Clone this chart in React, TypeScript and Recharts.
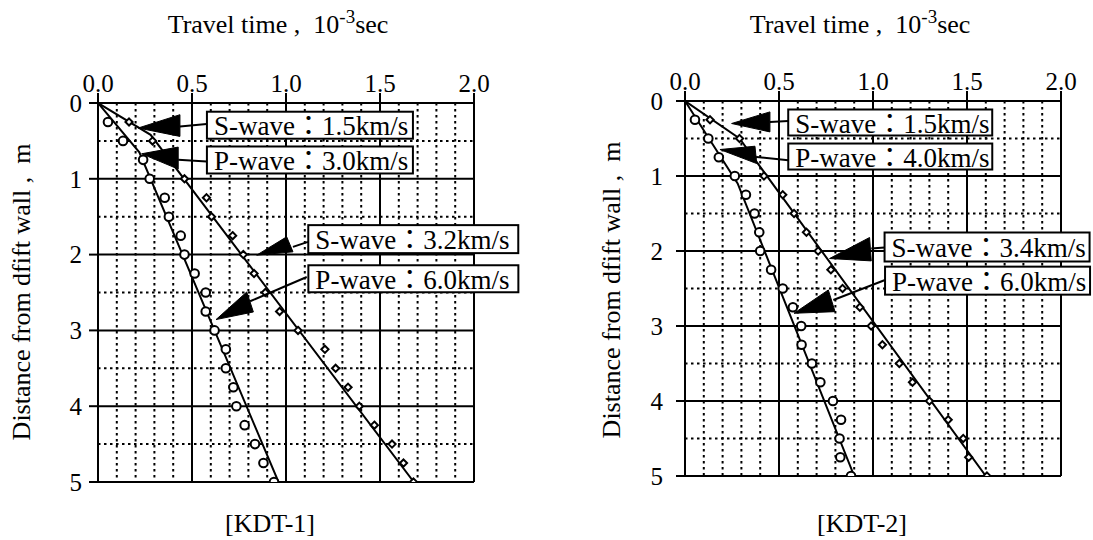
import React from 'react';
import { ComposedChart, Scatter, XAxis, YAxis, CartesianGrid, ReferenceLine, ReferenceDot } from 'recharts';

// ---- data ----
const depths = [0.25, 0.5, 0.75, 1.0, 1.25, 1.5, 1.75, 2.0, 2.25, 2.5, 2.75, 3.0, 3.25, 3.5, 3.75, 4.0, 4.25, 4.5, 4.75, 5.0];

const kdt1P = [0.053, 0.133, 0.24, 0.275, 0.355, 0.377, 0.44, 0.46, 0.514, 0.573, 0.573, 0.62, 0.68, 0.68, 0.72, 0.736, 0.78, 0.835, 0.88, 0.936];
const kdt1S = [0.165, 0.29, 0.38, 0.46, 0.577, 0.604, 0.716, 0.773, 0.83, 0.89, 0.966, 1.064, 1.207, 1.264, 1.33, 1.39, 1.47, 1.564, 1.625, 1.678];
const kdt2P = [0.053, 0.124, 0.18, 0.265, 0.324, 0.37, 0.395, 0.4, 0.458, 0.52, 0.574, 0.618, 0.62, 0.675, 0.72, 0.787, 0.83, 0.822, 0.826, 0.883];
const kdt2S = [0.133, 0.29, 0.36, 0.42, 0.52, 0.58, 0.646, 0.708, 0.776, 0.838, 0.93, 0.99, 1.05, 1.14, 1.21, 1.3, 1.4, 1.48, 1.509, 1.606];

// fitted velocity lines: [time, depth] vertices
const kdt1PLineT = [0, 0.22, 0.96];
const kdt1PLineD = [0, 0.65, 5];
const kdt1SLineT = [0, 0.28, 1.68];
const kdt1SLineD = [0, 0.42, 5];
const kdt2PLineT = [0, 0.28, 0.9];
const kdt2PLineD = [0, 1.1, 5];
const kdt2SLineT = [0, 0.29, 1.6];
const kdt2SLineD = [0, 0.5, 5];

const xTicks = [0, 0.5, 1, 1.5, 2];
const yTicks = [0, 1, 2, 3, 4, 5];
const xMinor = [0.1, 0.2, 0.3, 0.4, 0.6, 0.7, 0.8, 0.9, 1.1, 1.2, 1.3, 1.4, 1.6, 1.7, 1.8, 1.9];
const yMinor = [0.5, 1.5, 2.5, 3.5, 4.5];

const kdt1Notes = ['S-wave：1.5km/s', 'P-wave：3.0km/s', 'S-wave：3.2km/s', 'P-wave：6.0km/s'];
const kdt2Notes = ['S-wave：1.5km/s', 'P-wave：4.0km/s', 'S-wave：3.4km/s', 'P-wave：6.0km/s'];
// arrow tip positions in data units [time, depth]
const kdt1NoteTips = [[0.214, 0.33], [0.232, 0.67], [0.844, 2.007], [0.628, 2.857]];
const kdt2NoteTips = [[0.248, 0.3], [0.186, 0.647], [0.769, 2.1], [0.58, 2.83]];

// ---- layout (pixel offsets relative to arrow tip) ----
const kdt1Layout = [
  { tri: [[41.7, -13.3], [41.7, 8.4]], line: [[41.7, -1.6], [68.4, -4]], box: [68.7, -16.3, 206, 27] },
  { tri: [[36.6, -6.7], [36.6, 15.3]], line: [[36.6, 6], [65, 7.7]], box: [65.3, -7.3, 206, 27] },
  { tri: [[30, -18.3], [36.3, -3.3]], line: [[36.3, -8.3], [51.3, -13.3]], box: [51.6, -30, 210, 28] },
  { tri: [[30.7, -27.6], [37.3, -7.6]], line: [[34, -18.3], [90.7, -42.6]], box: [92.3, -54.3, 210, 27] },
];
const kdt2Layout = [
  { tri: [[38.3, -11.6], [38.3, 8.4]], line: [[38.3, -1.6], [56.6, -2.6]], box: [56.6, -14, 204, 26] },
  { tri: [[35, -3.3], [36.7, 14]], line: [[36.7, 7.4], [68.3, 10.7]], box: [68.3, -6, 204, 26] },
  { tri: [[40, -21], [41.7, 2.4]], line: [[41.7, -10], [55, -11]], box: [55, -26, 205, 29] },
  { tri: [[34.3, -23.3], [41, -1.6]], line: [[39.3, -13.3], [91, -33.3]], box: [91, -46.6, 205, 28] },
];

const FONT = "'Liberation Serif', 'Times New Roman', 'Noto Sans CJK JP', serif";

const Circle = (props: any) => {
  const { cx, cy } = props;
  if (cx == null || cy == null) return <g />;
  return <circle cx={cx} cy={cy} r={4.3} fill="#fff" stroke="#000" strokeWidth={2} />;
};
const Diamond = (props: any) => {
  const { cx, cy } = props;
  if (cx == null || cy == null) return <g />;
  const s = 3.6;
  return <polygon points={`${cx},${cy - s} ${cx + s},${cy} ${cx},${cy + s} ${cx - s},${cy}`} fill="#fff" stroke="#000" strokeWidth={2} />;
};
const NoMark = () => <g />;

function makeNote(text: string, lay: any) {
  return (props: any) => {
    const { cx, cy } = props;
    if (cx == null || cy == null) return <g />;
    const [bx, by, bw, bh] = lay.box;
    return (
      <g>
        <polygon
          points={`${cx},${cy} ${cx + lay.tri[0][0]},${cy + lay.tri[0][1]} ${cx + lay.tri[1][0]},${cy + lay.tri[1][1]}`}
          fill="#000" stroke="#000" strokeWidth={1} />
        <line x1={cx + lay.line[0][0]} y1={cy + lay.line[0][1]} x2={cx + lay.line[1][0]} y2={cy + lay.line[1][1]} stroke="#000" strokeWidth={2} />
        <rect x={cx + bx} y={cy + by} width={bw} height={bh} fill="#fff" stroke="#000" strokeWidth={2} />
        <text x={cx + bx + 7} y={cy + by + bh / 2 + 1} dominantBaseline="central" fontSize={27} fontFamily={FONT} fill="#000">{text}</text>
      </g>
    );
  };
}

function Panel(props: any) {
  const { left, width, margin, pT, sT, pLT, pLD, sLT, sLD, notes, tips, layout, yTickMargin } = props;
  const pData = depths.map((d, i) => ({ t: pT[i], d }));
  const sData = depths.map((d, i) => ({ t: sT[i], d }));
  const pLine = pLT.map((t: number, i: number) => ({ t, d: pLD[i] }));
  const sLine = sLT.map((t: number, i: number) => ({ t, d: sLD[i] }));
  const tickStyle = { fontSize: 25, fontFamily: FONT, fill: '#000' };
  return (
    <div style={{ position: 'absolute', left, top: 0 }}>
      <ComposedChart width={width} height={540} margin={margin}>
        <XAxis type="number" dataKey="t" orientation="top" domain={[0, 2]} ticks={xTicks}
          tickFormatter={(v: number) => v.toFixed(1)} tick={tickStyle} tickSize={10} tickMargin={1}
          axisLine={{ stroke: '#000', strokeWidth: 2 }} tickLine={{ stroke: '#000', strokeWidth: 2 }} height={40} allowDataOverflow />
        <YAxis type="number" dataKey="d" domain={[0, 5]} reversed ticks={yTicks} tick={tickStyle}
          tickSize={9} tickMargin={yTickMargin} width={60}
          axisLine={{ stroke: '#000', strokeWidth: 2 }} tickLine={{ stroke: '#000', strokeWidth: 2 }} allowDataOverflow />
        {xMinor.map((v) => (
          <ReferenceLine key={'xm' + v} x={v} stroke="#000" strokeWidth={2} strokeDasharray="2.5 3.5" />
        ))}
        {yMinor.map((v) => (
          <ReferenceLine key={'ym' + v} y={v} stroke="#000" strokeWidth={2} strokeDasharray="2.5 3.5" />
        ))}
        <CartesianGrid stroke="#000" strokeWidth={2} />
        <Scatter data={pLine} line={{ stroke: '#000', strokeWidth: 2 }} lineType="joint" shape={NoMark} isAnimationActive={false} />
        <Scatter data={sLine} line={{ stroke: '#000', strokeWidth: 2 }} lineType="joint" shape={NoMark} isAnimationActive={false} />
        <Scatter data={pData} shape={Circle} isAnimationActive={false} />
        <Scatter data={sData} shape={Diamond} isAnimationActive={false} />
        {notes.map((n: string, i: number) => (
          <ReferenceDot key={'n' + i} x={tips[i][0]} y={tips[i][1]} ifOverflow="visible" shape={makeNote(n, layout[i])} />
        ))}
      </ComposedChart>
    </div>
  );
}

const textBase: React.CSSProperties = {
  position: 'absolute', fontFamily: FONT, fontSize: 26, color: '#000', whiteSpace: 'nowrap', lineHeight: '26px',
};

function Title({ cx }: { cx: number }) {
  return (
    <div style={{ ...textBase, left: cx, top: 12, transform: 'translateX(-50%)' }}>
      Travel time&nbsp;,&nbsp;&nbsp;10<span style={{ fontSize: 19, position: 'relative', top: -10 }}>-3</span>sec
    </div>
  );
}
function YLabel({ cx, cy }: { cx: number; cy: number }) {
  return (
    <div style={{ ...textBase, left: cx, top: cy, transform: 'translate(-50%, -50%) rotate(-90deg)' }}>
      Distance from dfift wall&nbsp;,&nbsp;&nbsp;m
    </div>
  );
}
function Caption({ cx, cy, text }: { cx: number; cy: number; text: string }) {
  return <div style={{ ...textBase, left: cx, top: cy, transform: 'translate(-50%, -50%)' }}>{text}</div>;
}

export default function App() {
  return (
    <div style={{ position: 'absolute', left: 0, top: 0, width: 1093, height: 540, background: '#fff', overflow: 'hidden' }}>
      <Panel left={0} width={546} margin={{ top: 63, left: 38, right: 72, bottom: 58 }}
        pT={kdt1P} sT={kdt1S} pLT={kdt1PLineT} pLD={kdt1PLineD} sLT={kdt1SLineT} sLD={kdt1SLineD}
        notes={kdt1Notes} tips={kdt1NoteTips} layout={kdt1Layout} yTickMargin={7} />
      <Panel left={546} width={547} margin={{ top: 61, left: 79, right: 32, bottom: 64 }}
        pT={kdt2P} sT={kdt2S} pLT={kdt2PLineT} pLD={kdt2PLineD} sLT={kdt2SLineT} sLD={kdt2SLineD}
        notes={kdt2Notes} tips={kdt2NoteTips} layout={kdt2Layout} yTickMargin={13} />
      <Title cx={278} />
      <Title cx={860} />
      <YLabel cx={22} cy={292} />
      <YLabel cx={612} cy={290} />
      <Caption cx={270} cy={524} text="[KDT-1]" />
      <Caption cx={862} cy={524} text="[KDT-2]" />
    </div>
  );
}
